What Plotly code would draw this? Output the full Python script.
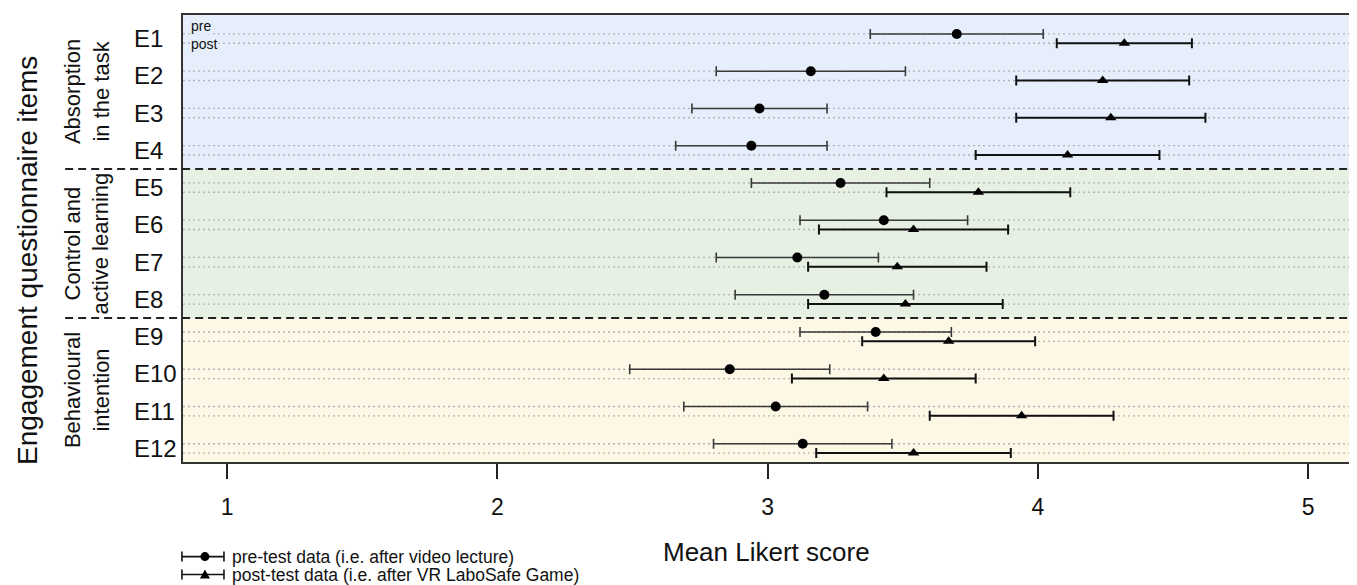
import plotly.graph_objects as go

items = ["E1", "E2", "E3", "E4", "E5", "E6", "E7", "E8", "E9", "E10", "E11", "E12"]
pre_mean = [3.70, 3.16, 2.97, 2.94, 3.27, 3.43, 3.11, 3.21, 3.40, 2.86, 3.03, 3.13]
pre_err = [0.32, 0.35, 0.25, 0.28, 0.33, 0.31, 0.30, 0.33, 0.28, 0.37, 0.34, 0.33]
post_mean = [4.32, 4.24, 4.27, 4.11, 3.78, 3.54, 3.48, 3.51, 3.67, 3.43, 3.94, 3.54]
post_err = [0.25, 0.32, 0.35, 0.34, 0.34, 0.35, 0.33, 0.36, 0.32, 0.34, 0.34, 0.36]
groups = ["Absorption<br>in the task", "Control and<br>active learning", "Behavioural<br>intention"]
group_sizes = [4, 4, 4]
group_colors = ["#e6eefc", "#e6f0e3", "#fdf7e6"]
x_ticks = [1, 2, 3, 4, 5]

FONT = "Liberation Sans, Arial, sans-serif"
n = len(items)
OFF = 0.25
pre_y = [-i for i in range(n)]
post_y = [-i - OFF for i in range(n)]
lab_y = [-i - OFF / 2 for i in range(n)]
y_top = 0.508
y_bot = -(n - 1) - OFF - 0.24

fig = go.Figure()

fig.add_trace(go.Scatter(
    x=pre_mean, y=pre_y, mode="markers",
    marker=dict(symbol="circle", size=10, color="black"),
    error_x=dict(type="data", array=pre_err, color="#3a3a3a", thickness=1.6, width=5),
    showlegend=False))
fig.add_trace(go.Scatter(
    x=post_mean, y=post_y, mode="markers",
    marker=dict(symbol="triangle-up", size=10, color="black"),
    error_x=dict(type="data", array=post_err, color="#111111", thickness=2, width=5),
    showlegend=False))

shapes = []
annotations = []

start = 0
bounds = []
for gi, size in enumerate(group_sizes):
    first = start
    last = start + size - 1
    top = y_top if gi == 0 else (post_y[first - 1] + pre_y[first]) / 2
    bot = y_bot if gi == len(group_sizes) - 1 else (post_y[last] + pre_y[last + 1]) / 2
    shapes.append(dict(type="rect", xref="paper", yref="y", x0=0, x1=1, y0=bot, y1=top,
                       fillcolor=group_colors[gi], line=dict(width=0), layer="below"))
    annotations.append(dict(text=groups[gi], xref="paper", yref="y", x=-0.0822, y=(top + bot) / 2,
                            textangle=-90, showarrow=False, xanchor="center", yanchor="middle",
                            font=dict(family=FONT, size=22, color="#111111")))
    if gi < len(group_sizes) - 1:
        bounds.append(bot)
    start += size

for yy in pre_y + post_y:
    shapes.append(dict(type="line", xref="paper", yref="y", x0=0, x1=1, y0=yy, y1=yy,
                       line=dict(color="#b4b4b4", width=1.3, dash="2px,3px"), layer="below"))

for b in bounds:
    shapes.append(dict(type="line", xref="paper", yref="y", x0=-0.101, x1=1, y0=b, y1=b,
                       line=dict(color="#222222", width=2, dash="8px,5px"), layer="above"))

# item labels (left-aligned, as in the reference)
for lbl, yy in zip(items, lab_y):
    annotations.append(dict(text=lbl, xref="paper", yref="y", x=-0.0437, y=yy, showarrow=False,
                            xanchor="left", yanchor="middle",
                            font=dict(family=FONT, size=24, color="#111111")))

# pre / post labels
annotations.append(dict(text="post", xref="paper", yref="y", x=0.006, y=post_y[0] - 0.02, showarrow=False,
                        xanchor="left", yanchor="middle", bgcolor=group_colors[0],
                        font=dict(family=FONT, size=14, color="#111111"), borderpad=0))
annotations.append(dict(text="pre", xref="paper", yref="y", x=0.006, y=pre_y[0] + 0.2, showarrow=False,
                        xanchor="left", yanchor="middle", bgcolor=group_colors[0],
                        font=dict(family=FONT, size=14, color="#111111"), borderpad=0))

annotations.append(dict(text="Mean Likert score", xref="paper", yref="paper", x=0.5, y=-0.2004,
                        showarrow=False, xanchor="center", yanchor="middle",
                        font=dict(family=FONT, size=26, color="#111111")))
annotations.append(dict(text="Engagement questionnaire items", xref="paper", yref="paper",
                        x=-0.1327, y=0.45, textangle=-90, showarrow=False,
                        xanchor="center", yanchor="middle",
                        font=dict(family=FONT, size=28, color="#111111")))

leg_rows = [("pre-test data (i.e. after video lecture)", "circle", -0.2116),
            ("post-test data (i.e. after VR LaboSafe Game)", "triangle", -0.2517)]
for text, sym, yp in leg_rows:
    shapes.append(dict(type="line", xref="paper", yref="paper", x0=-0.0009, x1=0.0351, y0=yp, y1=yp,
                       line=dict(color="#111111", width=1.6)))
    for xc in (-0.0009, 0.0351):
        shapes.append(dict(type="line", xref="paper", yref="paper", xsizemode="scaled",
                           ysizemode="pixel", yanchor=yp, x0=xc, x1=xc, y0=-5, y1=5,
                           line=dict(color="#111111", width=1.6)))
    if sym == "circle":
        shapes.append(dict(type="circle", xref="paper", yref="paper", xsizemode="pixel",
                           ysizemode="pixel", xanchor=0.0188, yanchor=yp, x0=-4.5, x1=4.5, y0=-4.5, y1=4.5,
                           fillcolor="black", line=dict(width=0)))
    else:
        shapes.append(dict(type="path", xref="paper", yref="paper", xsizemode="pixel",
                           ysizemode="pixel", xanchor=0.0188, yanchor=yp,
                           path="M -5,-4 L 5,-4 L 0,5 Z", fillcolor="black", line=dict(width=0)))
    annotations.append(dict(text=text, xref="paper", yref="paper", x=0.0402, y=yp, showarrow=False,
                            xanchor="left", yanchor="middle",
                            font=dict(family=FONT, size=17.5, color="#111111")))

fig.update_layout(
    width=1349, height=577,
    margin=dict(l=175, r=6, t=5, b=123),
    paper_bgcolor="white", plot_bgcolor="white",
    font=dict(family=FONT, color="#111111"),
    shapes=shapes, annotations=annotations,
    showlegend=False,
)
fig.update_xaxes(range=[0.837, 5.155], tickvals=x_ticks, ticktext=[str(v) for v in x_ticks],
                 ticks="outside", ticklen=15, tickwidth=2, tickcolor="#222222",
                 tickfont=dict(family=FONT, size=23, color="#111111"), ticklabelstandoff=8,
                 showgrid=False, zeroline=False, showline=True, linecolor="#333333",
                 linewidth=2, mirror=True)
fig.update_yaxes(range=[y_bot, y_top], showticklabels=False, ticks="",
                 showgrid=False, zeroline=False, showline=True, linecolor="#333333",
                 linewidth=2, mirror=True)

fig.write_html("out.html")
